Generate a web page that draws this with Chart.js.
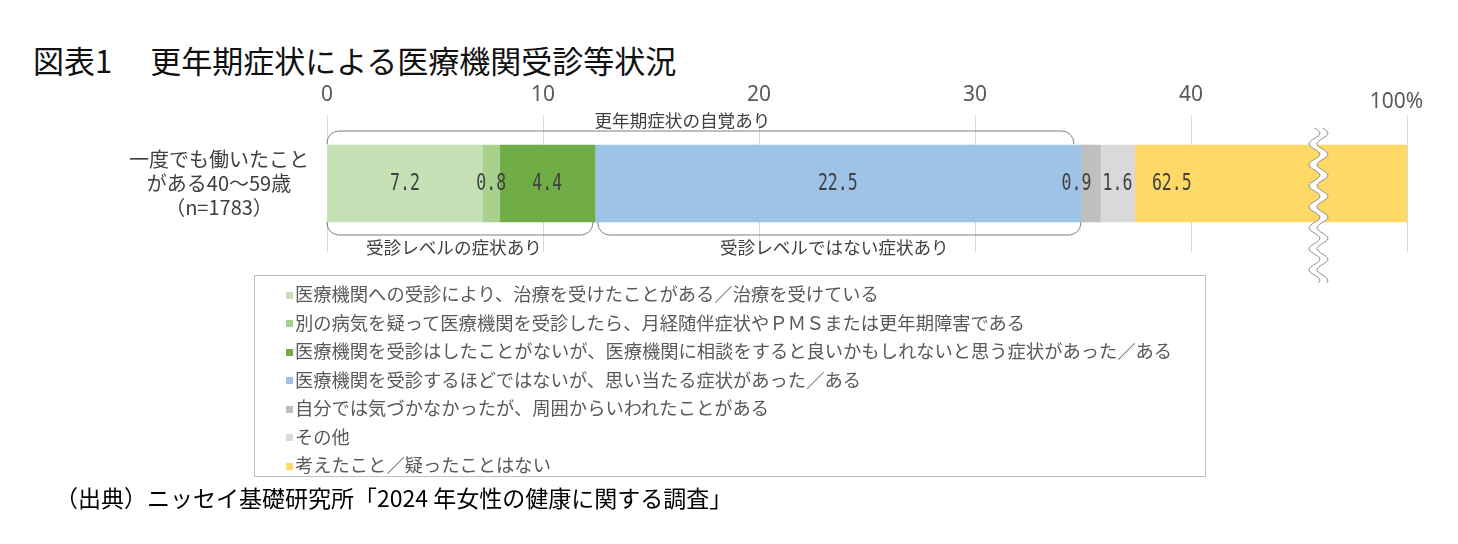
<!DOCTYPE html>
<html lang="ja">
<head>
<meta charset="utf-8">
<title>図表1 更年期症状による医療機関受診等状況</title>
<script src="https://cdn.jsdelivr.net/npm/chart.js@4.4.1/dist/chart.umd.min.js"></script>
<style>
    html, body {
        margin: 0;
        padding: 0;
        background: #fff;
    }

    body {
        position: relative;
        width: 1458px;
        height: 544px;
        overflow: hidden;
        font-family: "Noto Sans CJK JP", "Noto Sans", sans-serif;
    }

    #chart {
        position: absolute;
        left: 0;
        top: 0;
    }

    .title {
        position: absolute;
        left: 33px;
        top: 42px;
        font-size: 31px;
        line-height: 36px;
        color: #111;
        white-space: nowrap;
    }

    .title .gap {
        display: inline-block;
        width: 38px;
    }

    .legend {
        position: absolute;
        left: 254px;
        top: 275px;
        width: 952px;
        height: 202px;
        box-sizing: border-box;
        border: 1.5px solid #bfbfbf;
        padding: 3px 0 0 31px;
    }

    .legend .item {
        display: flex;
        align-items: center;
        height: 28.5px;
        font-size: 18.3px;
        color: #595959;
        white-space: nowrap;
    }

    .legend .mark {
        flex: none;
        width: 7px;
        height: 7px;
        margin-right: 2px;
        position: relative;
        top: 2px;
    }

    .source {
        position: absolute;
        left: 55px;
        top: 482px;
        font-size: 23px;
        line-height: 30px;
        color: #000;
        white-space: nowrap;
    }
</style>
</head>
<body>

<div class="title">図表1<span class="gap"></span>更年期症状による医療機関受診等状況</div>
<canvas id="chart" width="1458" height="544"></canvas>
<div id="legend" class="legend"></div>
<div class="source">（出典）ニッセイ基礎研究所「2024 年女性の健康に関する調査」</div>

<script>
/* =========================================================
   DATA
========================================================= */
const categories = [
    ['一度でも働いたこと', 'がある40～59歳', '（n=1783）']
];

const seriesNames = [
    '医療機関への受診により、治療を受けたことがある／治療を受けている',
    '別の病気を疑って医療機関を受診したら、月経随伴症状やＰＭＳまたは更年期障害である',
    '医療機関を受診はしたことがないが、医療機関に相談をすると良いかもしれないと思う症状があった／ある',
    '医療機関を受診するほどではないが、思い当たる症状があった／ある',
    '自分では気づかなかったが、周囲からいわれたことがある',
    'その他',
    '考えたこと／疑ったことはない'
];

const seriesValues = [7.2, 0.8, 4.4, 22.5, 0.9, 1.6, 62.5];

const tickValues = [0, 10, 20, 30, 40, 50];
const tickLabels = ['0', '10', '20', '30', '40', '100%\u2003'];

// bracket groups: label + [first series, end series)
const groupNames = ['更年期症状の自覚あり', '受診レベルの症状あり', '受診レベルではない症状あり'];
const groupRanges = [[0, 4], [0, 3], [3, 4]];

/* =========================================================
   STYLE
========================================================= */
const seriesColors = ['#c5e0b4', '#a9d18e', '#70ad47', '#9dc3e6', '#bfbfbf', '#d9d9d9', '#ffd966'];
const labelShift = [0, 0, 0, 0, -14, 0, 0];

const groupSide = ['top', 'bottom', 'bottom'];
const groupInset = [[0, -7], [0, -2], [3, 0]];
const groupLabelDx = [-18, -6, -5];

const axisBreakAt = 45.9;
const textColor = '#404040';

/* =========================================================
   HELPER
========================================================= */
function cumulative(values) {
    const out = [0];
    values.forEach(v => out.push(out[out.length - 1] + v));
    return out;
}

function bracketPath(ctx, x0, x1, yLine, yEnd, r) {
    ctx.moveTo(x0, yEnd);
    ctx.arcTo(x0, yLine, x0 + r, yLine, r);
    ctx.arcTo(x1, yLine, x1, yEnd, r);
    ctx.lineTo(x1, yEnd);
}

/* =========================================================
   PLUGINS
========================================================= */
const brackets = {
    id: 'brackets',
    afterDatasetsDraw(chart) {
        const ctx = chart.ctx;
        const x = chart.scales.x;
        const bar = chart.getDatasetMeta(0).data[0];
        const barTop = bar.y - bar.height / 2;
        const barBottom = bar.y + bar.height / 2;
        const cum = cumulative(seriesValues);

        ctx.save();
        ctx.strokeStyle = '#7f7f7f';
        ctx.lineWidth = 1;
        ctx.fillStyle = textColor;
        ctx.font = '17.6px "Noto Sans CJK JP", sans-serif';
        ctx.textAlign = 'center';
        ctx.textBaseline = 'middle';

        groupNames.forEach((name, i) => {
            const [a, b] = groupRanges[i];
            const x0 = x.getPixelForValue(cum[a]) + groupInset[i][0];
            const x1 = x.getPixelForValue(cum[b]) + groupInset[i][1];
            const top = groupSide[i] === 'top';

            ctx.beginPath();
            if (top) {
                bracketPath(ctx, x0, x1, barTop - 14, barTop - 1, 12);
            } else {
                bracketPath(ctx, x0, x1, barBottom + 13, barBottom, 12);
            }
            ctx.stroke();

            const ty = top ? barTop - 25 : barBottom + 25;
            ctx.fillText(name, (x0 + x1) / 2 + groupLabelDx[i], ty);
        });
        ctx.restore();
    }
};

const axisBreak = {
    id: 'axisBreak',
    afterDatasetsDraw(chart) {
        const ctx = chart.ctx;
        const cx = chart.scales.x.getPixelForValue(axisBreakAt);
        const top = 128;
        const bottom = 283;
        const w = 8;
        const amp = 5.5;
        const period = 21;
        const wave = y => amp * Math.sin((y - top) / period * 2 * Math.PI);

        ctx.save();
        ctx.beginPath();
        for (let y = top; y <= bottom; y++) ctx.lineTo(cx - w / 2 + wave(y), y);
        for (let y = bottom; y >= top; y--) ctx.lineTo(cx + w / 2 + wave(y), y);
        ctx.closePath();
        ctx.fillStyle = '#fff';
        ctx.fill();

        ctx.strokeStyle = '#8c8c8c';
        ctx.lineWidth = 1;
        [-w / 2, w / 2].forEach(off => {
            ctx.beginPath();
            for (let y = top; y <= bottom; y++) ctx.lineTo(cx + off + wave(y), y);
            ctx.stroke();
        });
        ctx.restore();
    }
};

const valueLabels = {
    id: 'valueLabels',
    afterDatasetsDraw(chart) {
        const ctx = chart.ctx;
        const area = chart.chartArea;

        ctx.save();
        ctx.font = '23px "DejaVu Sans Mono", "Liberation Mono", monospace';
        ctx.fillStyle = textColor;
        ctx.textAlign = 'center';
        ctx.textBaseline = 'middle';

        chart.data.datasets.forEach((ds, i) => {
            const bar = chart.getDatasetMeta(i).data[0];
            const left = Math.min(bar.base, bar.x);
            const right = Math.max(bar.base, bar.x);
            let cx = (left + right) / 2 + labelShift[i];
            if (right > area.right) cx = left + 37;

            ctx.save();
            ctx.translate(cx, bar.y + 1);
            ctx.scale(0.72, 1);
            ctx.fillText(ds.data[0].toFixed(1), 0, 0);
            ctx.restore();
        });
        ctx.restore();
    }
};

/* =========================================================
   LEGEND
========================================================= */
function buildLegend(chart) {
    const box = document.getElementById('legend');
    box.innerHTML = '';

    chart.data.datasets.forEach(ds => {
        const row = document.createElement('div');
        row.className = 'item';

        const mark = document.createElement('span');
        mark.className = 'mark';
        mark.style.background = ds.backgroundColor;

        const text = document.createElement('span');
        text.textContent = ds.label;

        row.append(mark, text);
        box.appendChild(row);
    });
}

/* =========================================================
   CHART INIT
========================================================= */
const chart = new Chart(document.getElementById('chart'), {
    type: 'bar',
    data: {
        labels: categories,
        datasets: seriesNames.map((name, i) => ({
            label: name,
            data: [seriesValues[i]],
            backgroundColor: seriesColors[i],
            borderWidth: 0,
            barThickness: 77
        }))
    },
    options: {
        indexAxis: 'y',
        responsive: false,
        animation: false,
        devicePixelRatio: 1,
        layout: {
            padding: { left: 0, right: 51, top: 75, bottom: 292 }
        },
        plugins: {
            legend: { display: false },
            tooltip: { enabled: false }
        },
        scales: {
            x: {
                position: 'top',
                stacked: true,
                min: 0,
                max: 50,
                afterBuildTicks(scale) {
                    scale.ticks = tickValues.map(v => ({ value: v }));
                },
                afterFit(scale) {
                    scale.height = 40;
                },
                ticks: {
                    autoSkip: false,
                    maxRotation: 0,
                    padding: 7,
                    color: '#595959',
                    font: ctx => ({
                        family: '"Noto Sans", sans-serif',
                        size: 21,
                        lineHeight: ctx.index === tickValues.length - 1 ? '12px' : 1.2
                    }),
                    callback: (value, index) => tickLabels[index]
                },
                grid: {
                    color: '#d9d9d9',
                    lineWidth: 1,
                    drawTicks: false
                },
                border: { display: false }
            },
            y: {
                stacked: true,
                afterFit(scale) {
                    scale.width = 327;
                },
                ticks: {
                    padding: 10,
                    crossAlign: 'center',
                    color: textColor,
                    font: {
                        family: '"Noto Sans CJK JP", sans-serif',
                        size: 20,
                        lineHeight: 1.18
                    }
                },
                grid: { display: false },
                border: { display: false }
            }
        }
    },
    plugins: [brackets, axisBreak, valueLabels]
});

buildLegend(chart);
</script>
</body>
</html>
